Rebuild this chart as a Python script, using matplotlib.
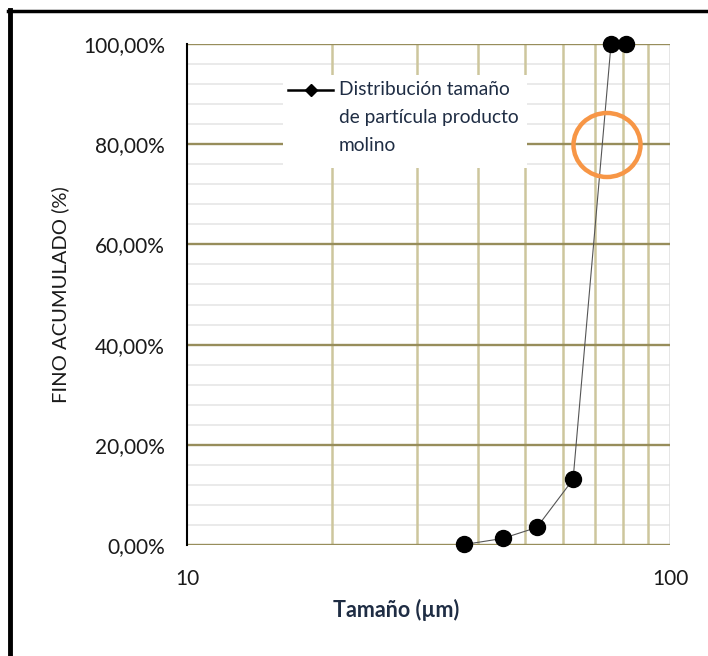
import matplotlib
matplotlib.use("Agg")
import matplotlib.pyplot as plt
from matplotlib.patches import Ellipse, Rectangle
from matplotlib.lines import Line2D
from matplotlib.ticker import FuncFormatter, FixedLocator, NullFormatter

# ---- data ----
sizes_um = [37.5, 45, 53, 63, 75.5, 81]
fino_acum = [0.1, 1.3, 3.5, 13.1, 100.0, 100.0]
series_label = "Distribución tamaño\nde partícula producto\nmolino"
x_ticks = [10, 100]
x_minor = [20, 30, 40, 50, 60, 70, 80, 90]
y_major = [0, 20, 40, 60, 80, 100]
y_minor = [v for v in range(0, 101, 4)]
x_label = "Tamaño (µm)"
y_label = "FINO ACUMULADO (%)"

plt.rcParams['font.family'] = ['Lato', 'DejaVu Sans']

fig = plt.figure(figsize=(7.08, 6.56), dpi=100)
ax = fig.add_axes([187/708, 1-545/656, (670-187)/708, (545-44)/656])

ax.set_xscale('log')
ax.set_xlim(10, 100)
ax.set_ylim(0, 100)

# grid lines
for yv in y_minor:
    ax.axhline(yv, color='#e6e6e6', lw=1.2, zorder=0.5)
for xv in x_minor:
    ax.axvline(xv, color='#cdc69d', lw=1.8, zorder=0.6)
for yv in y_major:
    ax.axhline(yv, color='#978d5b', lw=1.7, zorder=0.7)
ax.axvline(100, color='#dddddd', lw=1.8, zorder=0.6)

for s in ['top', 'right', 'bottom']:
    ax.spines[s].set_visible(False)
ax.spines['left'].set_color('black')
ax.spines['left'].set_linewidth(1.5)
ax.spines['left'].set_zorder(3)

ax.xaxis.set_major_locator(FixedLocator(x_ticks))
ax.xaxis.set_major_formatter(FuncFormatter(lambda v, p: f"{v:g}"))
ax.xaxis.set_minor_locator(FixedLocator(x_minor))
ax.xaxis.set_minor_formatter(NullFormatter())
ax.yaxis.set_major_locator(FixedLocator(y_major))
ax.yaxis.set_major_formatter(FuncFormatter(lambda v, p: f"{v:.2f}%".replace('.', ',')))
ax.tick_params(which='both', length=0)
ax.tick_params(axis='y', labelsize=15, pad=16, colors='#1a1a1a')
ax.tick_params(axis='x', labelsize=15, pad=17, colors='#1a1a1a')

ax.set_xlabel(x_label, fontsize=15.5, fontweight='bold', color='#1f2d44')
ax.xaxis.set_label_coords((396-187)/483, -(610-545)/501)
ax.xaxis.label.set_va('center')
ax.set_ylabel(y_label, fontsize=14.5, color='#1a1a1a')
ax.yaxis.set_label_coords(-(187-60)/483, 0.5)
ax.yaxis.label.set_va('center')

ax.plot(sizes_um, fino_acum, color='#555555', lw=0.8, marker='o', ms=11.5,
        mfc='black', mec='black', zorder=5, clip_on=False)

# legend (manual, aligned to first text line)
ax.add_patch(Rectangle(((283-187)/483, (545-168)/501), (527-283)/483, (168-75)/501,
                       transform=ax.transAxes, facecolor='white', edgecolor='none', zorder=2))
ly = (545-90)/501
ax.add_line(Line2D([(288-187)/483, (333-187)/483], [ly, ly], transform=ax.transAxes,
                   color='black', lw=1.8, zorder=3))
ax.add_line(Line2D([(311-187)/483], [ly], transform=ax.transAxes, color='black',
                   marker='D', ms=6.5, zorder=3))
ax.text((339-187)/483, (545-81)/501, series_label, transform=ax.transAxes,
        fontsize=13.8, color='#1f2d44', va='top', ha='left', linespacing=1.78, zorder=4)

# orange highlight ellipse
ax.add_patch(Ellipse(((607-187)/483, (545-145)/501), 67/483, 64/501, transform=ax.transAxes,
                     fill=False, edgecolor='#f79646', lw=3.2, zorder=6))

# figure border lines
fig.add_artist(Line2D([8/708, 1], [1-11/656, 1-11/656], color='black', lw=2.5))
fig.add_artist(Line2D([10/708, 10/708], [0, 1-10/656], color='black', lw=3.5))

fig.savefig("out.png", dpi=100)
